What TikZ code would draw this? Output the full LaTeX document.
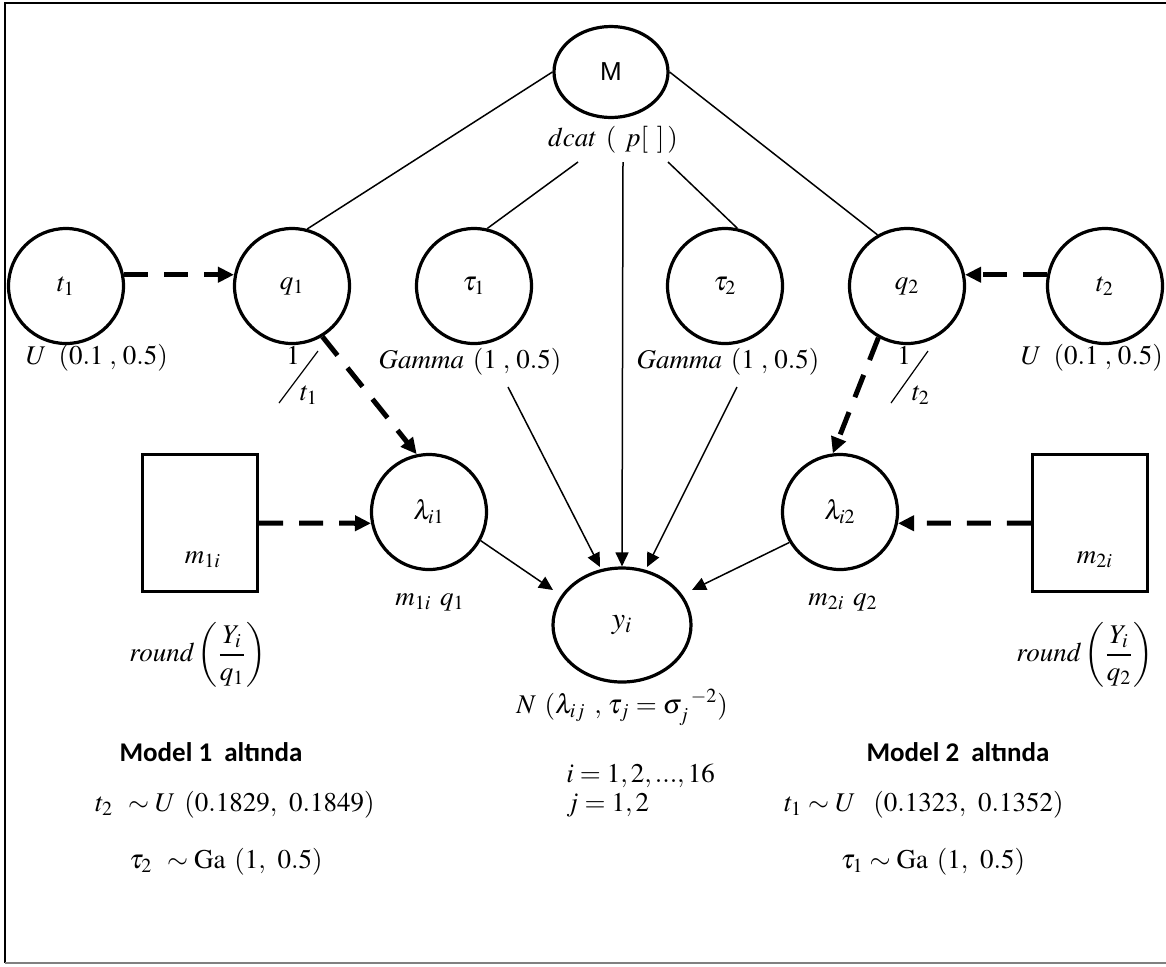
\documentclass[tikz,border=0pt]{standalone}
\usepackage{mathptmx}
\usepackage[no-math]{fontspec}
\newfontfamily\sansM{Liberation Sans}
\newfontfamily\calib{Carlito}
\usetikzlibrary{arrows.meta,shapes.geometric}
\newcommand{\fsz}{\fontsize{13.5}{16}\selectfont}
\tikzset{
  circ/.style={circle, draw, line width=1.6pt, minimum size=57.5pt, inner sep=0pt, font=\fsz},
  ell/.style={ellipse, draw, line width=1.6pt, inner sep=0pt, font=\fsz},
  boxnode/.style={rectangle, draw, line width=1.6pt, minimum width=57.5pt, minimum height=68.5pt, inner sep=0pt},
  lbl/.style={inner sep=0pt, font=\fsz},
  thinline/.style={line width=0.75pt},
  darr/.style={line width=2.5pt, dash pattern=on 12pt off 8pt, -{Triangle[length=8pt,width=7.5pt]}},
  sarr/.style={line width=0.75pt, -{Triangle[length=7pt,width=6.5pt]}},
  mlbl/.style={inner sep=0pt, font=\calib\bfseries\fontsize{13.5}{16}\selectfont},
}
\begin{document}
\begin{tikzpicture}[x=0.5pt,y=-0.5pt]
\useasboundingbox (0,0) rectangle (1166,966);
% frame
\draw[line width=1.1pt] (5,963) -- (5,3) -- (1166,3);
\draw[line width=0.8pt, gray] (5,963) -- (1166,963);

% top node
\node[ell, minimum width=57pt, minimum height=45.5pt] (M) at (611,72) {\sansM\fontsize{13}{15}\selectfont M};
\node[lbl] (dcat) at (613,140) {$dcat\ (\ p[\ ]\,)$};

% row of circles
\node[circ] (t1) at (66,286) {$t_1$};
\node[circ] (q1) at (292,286) {$q_1$};
\node[circ] (tau1) at (474,286) {$\tau_1$};
\node[circ] (tau2) at (725,286) {$\tau_2$};
\node[circ] (q2) at (907,286) {$q_2$};
\node[circ] (t2) at (1105,286) {$t_2$};

\node[lbl] (ut1) at (97,358) {$U\ \,(0.1\;,\,0.5)$};
\node[lbl] (ut2) at (1092,358) {$U\ \,(0.1\;,\,0.5)$};
\node[lbl] (gam1) at (470,362) {$Gamma\ (1\;,\,0.5)$};
\node[lbl] (gam2) at (728,362) {$Gamma\ (1\;,\,0.5)$};

% 1/t labels
\node[lbl] (one1) at (293,355) {$1$};
\node[lbl] (den1) at (309,395) {$t_1$};
\draw[thinline, line width=0.6pt] (318,351) -- (279,403);
\node[lbl] (one2) at (904,355) {$1$};
\node[lbl] (den2) at (921,395) {$t_2$};
\draw[thinline, line width=0.6pt] (928,351) -- (891,403);

% lambda circles and boxes
\node[circ] (li1) at (429,512) {$\lambda_{i1}$};
\node[circ] (li2) at (840,512) {$\lambda_{i2}$};
\node[boxnode] (m1) at (200,523) {};
\node[lbl] (m1t) at (203,560) {$m_{1i}$};
\node[boxnode] (m2) at (1090,523) {};
\node[lbl] (m2t) at (1095,560) {$m_{2i}$};
\node[lbl] (lab1) at (430,602) {$m_{1i}\ q_1$};
\node[lbl] (lab2) at (843,602) {$m_{2i}\ q_2$};
\node[lbl] (r1) at (198,655) {$round\left(\displaystyle\frac{Y_i}{q_1}\right)$};
\node[lbl] (r2) at (1085,655) {$round\left(\displaystyle\frac{Y_i}{q_2}\right)$};

% y_i
\node[ell, minimum width=69pt, minimum height=57pt, font=\fontsize{15}{18}\selectfont] (yi) at (622,625) {$y_i$};
\node[lbl] (nlab) at (622,707) {$N\ (\lambda_{ij}\ ,\,\tau_j=\sigma_j^{\ -2})$};

% bottom texts
\node[mlbl] (mod1) at (211,752) {Model 1\ \ altında};
\node[mlbl] (mod2) at (958,752) {Model 2\ \ altında};
\node[lbl, anchor=west] (ii) at (566,776) {$i=1,2,...,16$};
\node[lbl, anchor=west] (jj) at (566,805) {$j=1,2$};
\node[lbl] (b1) at (235,805) {$t_2\ \sim U\ (0.1829,\ 0.1849)$};
\node[lbl] (b2) at (226,862) {$\tau_2\ \sim \mathrm{Ga}\ (1,\ 0.5)$};
\node[lbl] (b3) at (924,805) {$t_1\sim U\ \ (0.1323,\ 0.1352)$};
\node[lbl] (b4) at (933,862) {$\tau_1\sim \mathrm{Ga}\ (1,\ 0.5)$};

% coordinates for connector ends
\coordinate (d1) at (578,162);
\coordinate (d2) at (623,162);
\coordinate (d3) at (668,162);
\coordinate (g1) at (508,387);
\coordinate (g2) at (737,387);
\coordinate (tipA) at (600,567);
\coordinate (tipB) at (647,567);
\coordinate (tipL) at (553,590);
\coordinate (tipR) at (692,590);

% thin connectors
\draw[thinline] (M.west) -- (q1.75);
\draw[thinline] (M.east) -- (q2.120);
\draw[thinline] (d1) -- (tau1.77);
\draw[thinline] (d3) -- (tau2.78);
\draw[sarr] (d2) -- (yi.north);
\draw[sarr] (g1) -- (tipA);
\draw[sarr] (g2) -- (tipB);
\draw[sarr] (li1.-29) -- (tipL);
\draw[sarr] (li2.211) -- (tipR);

% dashed connectors
\draw[darr] (t1.11) -- (q1.169);
\draw[darr] (t2.169) -- (q2.11);
\draw[darr] (q1.-59) -- (li1.102);
\draw[darr] (q2.-119) -- (li2.97);
\draw[darr] (m1.east) -- (li1.191);
\draw[darr] (m2.west) -- (li2.-11);
\end{tikzpicture}
\end{document}
